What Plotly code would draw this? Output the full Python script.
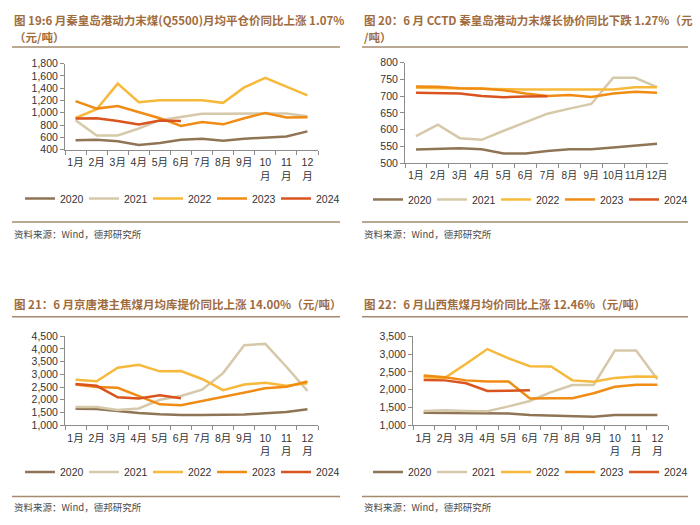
import plotly.graph_objects as go

years = ["2020", "2021", "2022", "2023", "2024"]
colors = ["#8f7556", "#d6c9aa", "#f6b93b", "#f08c14", "#d9541e"]

months_wrap = ["1月", "2月", "3月", "4月", "5月", "6月", "7月", "8月", "9月", "10<br>月", "11<br>月", "12<br>月"]
months_flat = ["1月", "2月", "3月", "4月", "5月", "6月", "7月", "8月", "9月", "10月", "11月", "12月"]

# Panel 1: 秦皇岛港动力末煤(Q5500)月均平仓价
p1_2020 = [551, 562, 538, 475, 508, 560, 578, 546, 578, 598, 614, 698]
p1_2021 = [880, 630, 630, 745, 880, 938, 985, 985, 985, 990, 990, 945]
p1_2022 = [915, 1058, 1475, 1173, 1205, 1205, 1205, 1162, 1413, 1570, 1423, 1285]
p1_2023 = [1190, 1068, 1110, 1006, 912, 785, 849, 812, 912, 998, 922, 927]
p1_2024 = [905, 912, 865, 810, 875, 865]

# Panel 2: CCTD 秦皇岛港动力末煤长协价
p2_2020 = [541, 542, 545, 542, 529, 529, 537, 542, 542, 547, 553, 558]
p2_2021 = [581, 615, 575, 570, 597, 623, 648, 663, 677, 755, 755, 727]
p2_2022 = [725, 724, 721, 720, 720, 720, 720, 720, 720, 720, 727, 727]
p2_2023 = [729, 728, 724, 723, 718, 708, 701, 704, 698, 708, 713, 710]
p2_2024 = [710, 708, 708, 701, 697, 699, 700]

# Panel 3: 京唐港主焦煤月均库提价
p3_2020 = [1650, 1640, 1560, 1480, 1430, 1400, 1400, 1400, 1420, 1470, 1520, 1630]
p3_2021 = [1720, 1720, 1600, 1660, 2000, 2150, 2400, 3050, 4150, 4200, 3300, 2350]
p3_2022 = [2790, 2730, 3260, 3380, 3120, 3130, 2820, 2380, 2600, 2670, 2550, 2650]
p3_2023 = [2600, 2500, 2470, 2150, 1820, 1790, 1950, 2120, 2270, 2450, 2510, 2720]
p3_2024 = [2620, 2550, 2100, 2050, 2180, 2060]

# Panel 4: 山西焦煤月均价
p4_2020 = [1350, 1350, 1350, 1350, 1330, 1290, 1270, 1240, 1240, 1290, 1290, 1290]
p4_2021 = [1400, 1420, 1400, 1390, 1530, 1680, 1930, 2130, 2130, 3100, 3100, 2290]
p4_2022 = [2350, 2330, 2730, 3140, 2880, 2660, 2650, 2260, 2220, 2330, 2370, 2360]
p4_2023 = [2400, 2350, 2260, 2230, 2230, 1750, 1760, 1760, 1900, 2080, 2140, 2140]
p4_2024 = [2270, 2260, 2180, 1960, 1970, 1980]

titles = [
    ["图 19:6 月秦皇岛港动力末煤(Q5500)月均平仓价同比上涨 1.07%", "（元/吨）"],
    ["图 20：6 月 CCTD 秦皇岛港动力末煤长协价同比下跌 1.27%（元", "/吨）"],
    ["图 21：6 月京唐港主焦煤月均库提价同比上涨 14.00%（元/吨）"],
    ["图 22：6 月山西焦煤月均价同比上涨 12.46%（元/吨）"],
]
source_text = "资料来源：Wind，德邦研究所"

panels = [
    dict(data=[p1_2020, p1_2021, p1_2022, p1_2023, p1_2024], cats=months_wrap,
         yrange=[400, 1800], dtick=200, xd=[65, 318], yd=[59, 147], legy=197, legx=180),
    dict(data=[p2_2020, p2_2021, p2_2022, p2_2023, p2_2024], cats=months_flat,
         yrange=[500, 800], dtick=50, xd=[405, 668], yd=[58, 161], legy=198, legx=528),
    dict(data=[p3_2020, p3_2021, p3_2022, p3_2023, p3_2024], cats=months_wrap,
         yrange=[1000, 4500], dtick=500, xd=[65, 318], yd=[338, 429], legy=477, legx=180),
    dict(data=[p4_2020, p4_2021, p4_2022, p4_2023, p4_2024], cats=months_wrap,
         yrange=[1000, 3500], dtick=500, xd=[413, 668], yd=[338, 429], legy=477, legx=528),
]

W, H = 700, 525
FONT = "Liberation Sans, Arial, Noto Sans CJK SC"
CJK = "Noto Sans CJK SC"
title_color = "#a06c3e"
rule_color = "#a38a70"
axis_color = "#8c8c8c"

fig = go.Figure()
layout = dict(
    width=W, height=H, margin=dict(l=0, r=0, t=0, b=0),
    paper_bgcolor="white", plot_bgcolor="white",
    font=dict(family=FONT, size=10.5, color="#333333"),
    shapes=[], annotations=[],
)

for i, p in enumerate(panels):
    n = "" if i == 0 else str(i + 1)
    leg = "legend" if i == 0 else "legend" + str(i + 1)
    for j, yr in enumerate(years):
        vals = p["data"][j]
        fig.add_trace(go.Scatter(
            x=p["cats"][:len(vals)], y=vals, mode="lines", name=yr,
            line=dict(color=colors[j], width=2.5),
            xaxis="x" + n, yaxis="y" + n, legend=leg,
        ))
    layout["xaxis" + n] = dict(
        domain=[p["xd"][0] / W, p["xd"][1] / W], anchor="y" + n,
        type="category", categoryorder="array", categoryarray=p["cats"],
        range=[-0.5, 11.5], showgrid=False, zeroline=False,
        showline=True, linecolor=axis_color, linewidth=1,
        ticks="outside", tickson="boundaries", ticklen=4, tickcolor=axis_color,
        tickangle=0, ticklabelstandoff=3,
        tickfont=dict(family=FONT, size=10.5 if i != 1 else 10, color="#333333"),
        fixedrange=True,
    )
    layout["yaxis" + n] = dict(
        domain=[1 - p["yd"][1] / H, 1 - p["yd"][0] / H], anchor="x" + n,
        range=p["yrange"], dtick=p["dtick"], tick0=p["yrange"][0],
        tickformat=",", showgrid=False, zeroline=False,
        showline=True, linecolor=axis_color, linewidth=1,
        ticks="outside", ticklen=4, tickcolor=axis_color,
        tickfont=dict(family=FONT, size=10.5, color="#333333"),
        fixedrange=True,
    )
    layout[leg] = dict(
        orientation="h", x=p["legx"] / W, xanchor="center",
        y=1 - p["legy"] / H, yanchor="middle",
        font=dict(family=FONT, size=10.5, color="#333333"),
        bgcolor="rgba(0,0,0,0)", entrywidth=19, entrywidthmode="pixels",
        itemclick=False, itemdoubleclick=False,
    )

# Titles, rules and sources
left_x = [12, 362, 12, 362]
right_x = [340, 688, 340, 688]
title_y = [[14, 32], [14, 32], [305], [305]]
title_rule_y = [42, 42, 318, 318]
src_rule_y = [221, 221, 502, 502]
src_y = [233, 233, 513, 513]

for i in range(4):
    for k, line in enumerate(titles[i]):
        layout["annotations"].append(dict(
            text="<b>" + line + "</b>", xref="paper", yref="paper",
            x=left_x[i] / W, y=1 - title_y[i][k] / H, xanchor="left", yanchor="middle",
            showarrow=False, font=dict(family=CJK, size=11.5, color=title_color),
        ))
    for ry in (title_rule_y[i], src_rule_y[i]):
        layout["shapes"].append(dict(
            type="line", xref="paper", yref="paper",
            x0=left_x[i] / W, x1=right_x[i] / W, y0=1 - ry / H, y1=1 - ry / H,
            line=dict(color=rule_color, width=1.5),
        ))
    layout["annotations"].append(dict(
        text=source_text, xref="paper", yref="paper",
        x=left_x[i] / W, y=1 - src_y[i] / H, xanchor="left", yanchor="middle",
        showarrow=False, font=dict(family=CJK, size=9.5, color="#4a4a4a"),
    ))

fig.update_layout(**layout)
fig.write_html("out.html")
